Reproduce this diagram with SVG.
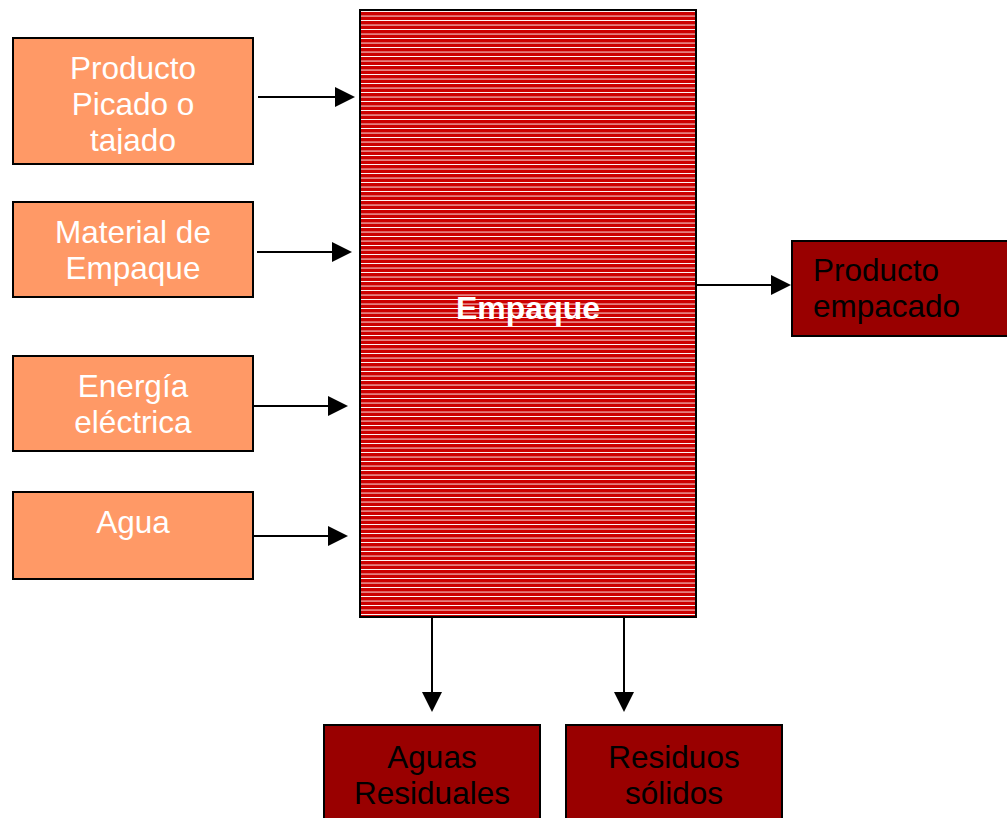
<svg xmlns="http://www.w3.org/2000/svg" width="1007" height="818" viewBox="0 0 1007 818">
<style>
.in{fill:#FF9966;stroke:#000;stroke-width:2}
.out{fill:#990000;stroke:#000;stroke-width:2}
.tw{font-family:"Liberation Sans",Arial,sans-serif;font-size:31.5px;fill:#fff;text-anchor:middle}
.tb{font-family:"Liberation Sans",Arial,sans-serif;font-size:31.5px;fill:#000}
.c{text-anchor:middle}
.ln{stroke:#000;stroke-width:2;fill:none}
.ah{fill:#000}
</style>
<defs>
<pattern id="stripes" patternUnits="userSpaceOnUse" x="0" y="12" width="10" height="4.5">
<rect width="10" height="4.5" fill="#CC0000" shape-rendering="crispEdges"/>
<rect y="3.4" width="10" height="1.1" fill="#fff" shape-rendering="crispEdges"/>
</pattern>
<clipPath id="c1"><rect x="13" y="38" width="240" height="116"/></clipPath>
</defs>
<g id="empaque">
<rect x="360" y="10" width="336" height="607" fill="url(#stripes)" stroke="#000" stroke-width="2"/>
<text x="528" y="319" font-family="Liberation Sans,Arial,sans-serif" font-size="32" font-weight="bold" fill="#fff" text-anchor="middle">Empaque</text>
</g>
<g id="producto-picado">
<rect class="in" x="13" y="38" width="240" height="126"/>
<g clip-path="url(#c1)">
<text class="tw" x="133" y="79">Producto</text>
<text class="tw" x="133" y="115">Picado o</text>
<text class="tw" x="133" y="151">tajado</text>
</g>
</g>
<g id="material">
<rect class="in" x="13" y="202" width="240" height="95"/>
<text class="tw" x="133" y="243">Material de</text>
<text class="tw" x="133" y="279">Empaque</text>
</g>
<g id="energia">
<rect class="in" x="13" y="356" width="240" height="95"/>
<text class="tw" x="133" y="397">Energía</text>
<text class="tw" x="133" y="433">eléctrica</text>
</g>
<g id="agua">
<rect class="in" x="13" y="492" width="240" height="87"/>
<text class="tw" x="133" y="533">Agua</text>
</g>
<g id="producto-empacado">
<rect class="out" x="792" y="241" width="220" height="95"/>
<text class="tb" x="813" y="281">Producto</text>
<text class="tb" x="813" y="317">empacado</text>
</g>
<g id="aguas-residuales">
<rect class="out" x="324" y="725" width="216" height="100"/>
<text class="tb c" x="432" y="768">Aguas</text>
<text class="tb c" x="432" y="804">Residuales</text>
</g>
<g id="residuos-solidos">
<rect class="out" x="566" y="725" width="216" height="100"/>
<text class="tb c" x="674" y="768">Residuos</text>
<text class="tb c" x="674" y="804">sólidos</text>
</g>
<g id="connectors">
<line class="ln" x1="258" y1="97" x2="336" y2="97"/>
<polygon class="ah" points="335,87 355,97 335,107"/>
<line class="ln" x1="257" y1="252" x2="333" y2="252"/>
<polygon class="ah" points="332,242 352,252 332,262"/>
<line class="ln" x1="253" y1="406" x2="329" y2="406"/>
<polygon class="ah" points="328,396 348,406 328,416"/>
<line class="ln" x1="253" y1="536" x2="329" y2="536"/>
<polygon class="ah" points="328,526 348,536 328,546"/>
<line class="ln" x1="696" y1="285" x2="772" y2="285"/>
<polygon class="ah" points="771,275 791,285 771,295"/>
<line class="ln" x1="432" y1="617" x2="432" y2="693"/>
<polygon class="ah" points="422,692 432,712 442,692"/>
<line class="ln" x1="624" y1="617" x2="624" y2="693"/>
<polygon class="ah" points="614,692 624,712 634,692"/>
</g>
</svg>
